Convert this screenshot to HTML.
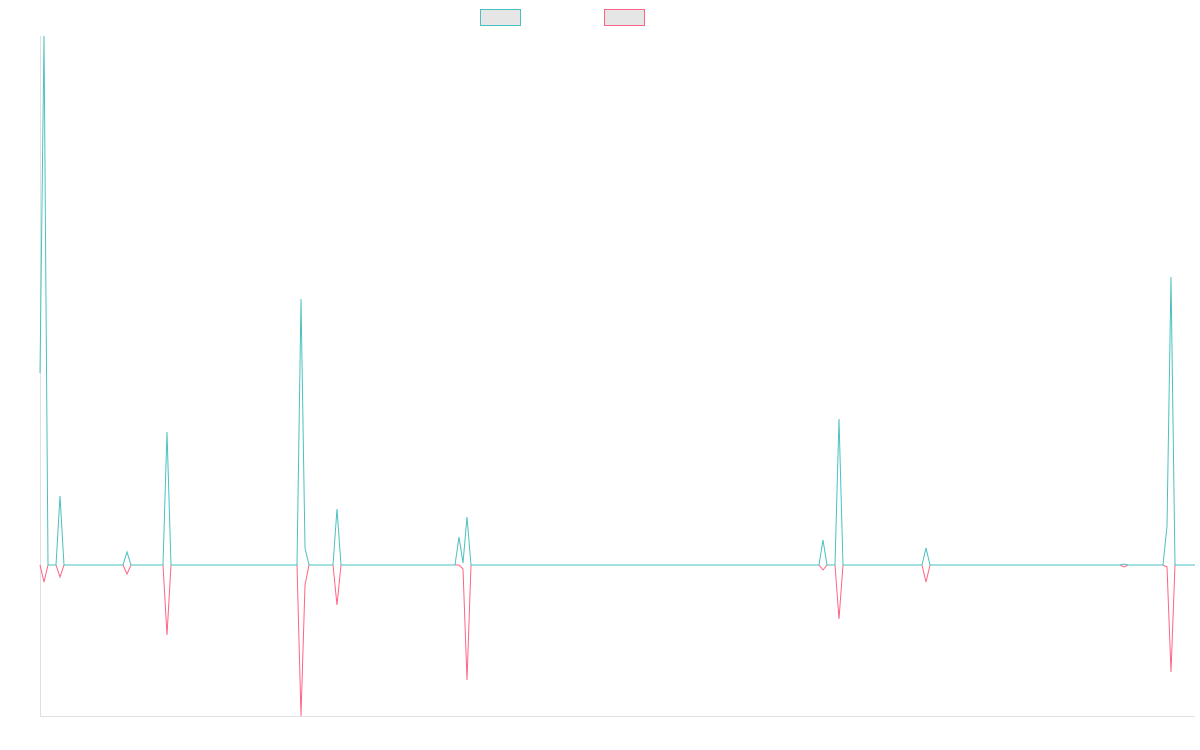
<!DOCTYPE html>
<html><head><meta charset="utf-8"><style>html,body{margin:0;padding:0;background:#fff;width:1200px;height:750px;overflow:hidden}</style></head>
<body>
<svg width="1200" height="750" xmlns="http://www.w3.org/2000/svg">
<rect x="480.5" y="9.5" width="40" height="16" fill="#e6e6e6" stroke="#4bc0c0"/>
<rect x="604.5" y="9.5" width="40" height="16" fill="#e6e6e6" stroke="#ff6384"/>
<line x1="40.5" y1="36" x2="40.5" y2="716" stroke="#e0e0e0"/>
<line x1="40" y1="716.5" x2="1195" y2="716.5" stroke="#e0e0e0"/>
<polyline fill="none" stroke="#ff6384" stroke-width="1" points="40,565 44,582 48,565 56,565 60,577 64,565 123,565 127,574 131,565 163,565 167,635 171,565 297,565 301,716 305,585 309,565 333,565 337,605 341,565 455,565 459,565 463,569 467,680 471,565 819,565 823,570 827,565 835,565 839,619 843,565 922,565 926,582 930,565 1120,565 1124,567 1128,565 1163,565 1167,567 1171,672 1175,565 1195,565"/>
<polyline fill="none" stroke="#4bc0c0" stroke-width="1" points="40,373 44,36 48,565 56,565 60,496 64,565 123,565 127,552 131,565 163,565 167,432 171,565 297,565 301,299 305,548 309,565 333,565 337,509 341,565 455,565 459,537 463,563 467,517 471,565 819,565 823,540 827,565 835,565 839,419 843,565 922,565 926,548 930,565 1120,565 1124,564 1128,565 1163,565 1167,526 1171,277 1175,565 1195,565"/>
</svg>
</body></html>
